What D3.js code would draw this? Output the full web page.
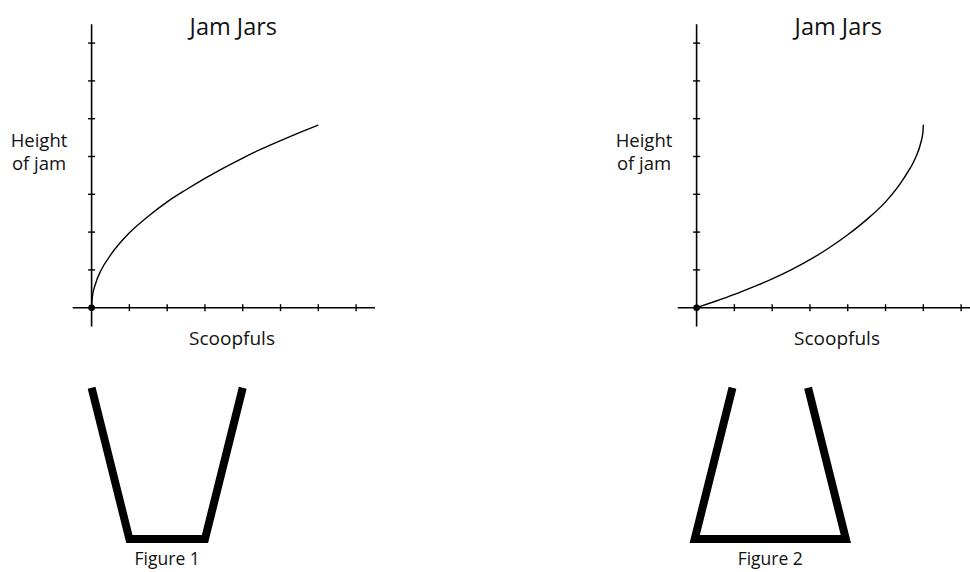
<!DOCTYPE html>
<html>
<head>
<meta charset="utf-8">
<script src="https://d3js.org/d3.v7.min.js"></script>
<style>
  body { margin: 0; background: #fff; }
  text { font-family: "Open Sans", sans-serif; fill: #111; }
</style>
</head>
<body>
<svg width="970" height="572"></svg>
<script>
// tick positions (units) on both axes
var xTicks = [1, 2, 3, 4, 5, 6, 7];
var yTicks = [1, 2, 3, 4, 5, 6, 7];

// figure 1 : height rises fast then slows
var scoops1 = [0, 0.02, 0.1, 0.25, 0.5, 1, 1.5, 2, 2.5, 3, 3.5, 4, 4.5, 5, 5.5, 6];
var height1 = [0, 0.28, 0.62, 0.99, 1.39, 1.98, 2.42, 2.8, 3.12, 3.42, 3.7, 3.96, 4.2, 4.42, 4.63, 4.83];

// figure 2 : height rises slowly then shoots up
var scoops2 = [0, 0.5, 1, 1.5, 2, 2.5, 3, 3.5, 4, 4.5, 5, 5.5, 5.8, 5.93, 5.99, 6];
var height2 = [0, 0.17, 0.35, 0.55, 0.76, 1.0, 1.27, 1.58, 1.93, 2.33, 2.8, 3.45, 3.98, 4.35, 4.65, 4.84];

// jars: widths at top and bottom, height (same units as the graphs)
var jarLabels = ["Figure 1", "Figure 2"];
var jarTopWidth = [4, 2];
var jarBottomWidth = [2, 4];
var jarHeight = [4, 4];

var svg = d3.select("svg");

var x = d3.scaleLinear().domain([-0.5, 7.5]).range([72.7, 375]);
var y = d3.scaleLinear().domain([-0.5, 7.5]).range([326.6, 24.2]);

var panels = [
  {dx: 0, xs: scoops1, ys: height1, jarCx: 2.0},
  {dx: 605, xs: scoops2, ys: height2, jarCx: 1.95}
];

var line = d3.line()
  .x(function(d) { return x(d[0]); })
  .y(function(d) { return y(d[1]); })
  .curve(d3.curveMonotoneX);

panels.forEach(function(p, i) {
  var g = svg.append("g").attr("transform", "translate(" + p.dx + ",0)");

  // axes
  g.append("line")
    .attr("x1", x(-0.5)).attr("x2", x(7.5))
    .attr("y1", y(0)).attr("y2", y(0))
    .attr("stroke", "#000").attr("stroke-width", 1.6);
  g.append("line")
    .attr("x1", x(0)).attr("x2", x(0))
    .attr("y1", y(-0.5)).attr("y2", y(7.5))
    .attr("stroke", "#000").attr("stroke-width", 1.6);

  g.selectAll(".xt").data(xTicks).enter().append("line")
    .attr("x1", function(d) { return x(d); })
    .attr("x2", function(d) { return x(d); })
    .attr("y1", y(0) - 3.5).attr("y2", y(0) + 3.5)
    .attr("stroke", "#000").attr("stroke-width", 1.4);
  g.selectAll(".yt").data(yTicks).enter().append("line")
    .attr("y1", function(d) { return y(d); })
    .attr("y2", function(d) { return y(d); })
    .attr("x1", x(0) - 3.5).attr("x2", x(0) + 3.5)
    .attr("stroke", "#000").attr("stroke-width", 1.4);

  // curve
  g.append("path")
    .datum(d3.zip(p.xs, p.ys))
    .attr("d", line)
    .attr("fill", "none")
    .attr("stroke", "#000")
    .attr("stroke-width", 1.4);

  g.append("circle")
    .attr("cx", x(0)).attr("cy", y(0)).attr("r", 3.3)
    .attr("fill", "#000");

  // labels
  g.append("text")
    .attr("x", 233.3).attr("y", 35)
    .attr("text-anchor", "middle")
    .style("font-size", "23.5px")
    .text("Jam Jars");

  g.append("text")
    .attr("x", 232).attr("y", 345)
    .attr("text-anchor", "middle")
    .style("font-size", "19px")
    .text("Scoopfuls");

  var yl = g.append("text")
    .attr("text-anchor", "middle")
    .style("font-size", "18.5px");
  yl.append("tspan").attr("x", 39).attr("y", 146.7).text("Height");
  yl.append("tspan").attr("x", 39).attr("y", 170).text("of jam");

  // jar
  var base = -6.12;
  var top = base + jarHeight[i];
  var jar = [
    [p.jarCx - jarTopWidth[i] / 2, top],
    [p.jarCx - jarBottomWidth[i] / 2, base],
    [p.jarCx + jarBottomWidth[i] / 2, base],
    [p.jarCx + jarTopWidth[i] / 2, top]
  ];
  g.append("path")
    .datum(jar)
    .attr("d", d3.line().x(function(d) { return x(d[0]); }).y(function(d) { return y(d[1]); }))
    .attr("fill", "none")
    .attr("stroke", "#000")
    .attr("stroke-width", 8)
    .attr("stroke-linejoin", "miter");

  g.append("text")
    .attr("x", x(p.jarCx)).attr("y", 565)
    .attr("text-anchor", "middle")
    .style("font-size", "17.5px")
    .text(jarLabels[i]);
});
</script>
</body>
</html>
